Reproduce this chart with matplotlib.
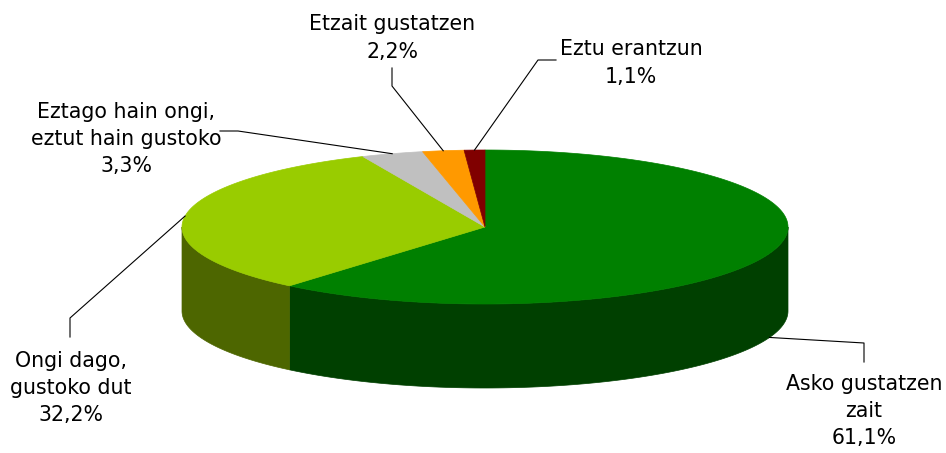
import numpy as np
import matplotlib
matplotlib.use("Agg")
import matplotlib.pyplot as plt
from matplotlib.patches import Polygon

# data
labels = ["Asko gustatzen\nzait", "Ongi dago,\ngustoko dut", "Eztago hain ongi,\neztut hain gustoko",
          "Etzait gustatzen", "Eztu erantzun"]
values = [61.1, 32.2, 3.3, 2.2, 1.1]
pct_text = ["61,1%", "32,2%", "3,3%", "2,2%", "1,1%"]
top_colors = ["#008000", "#99CC00", "#C0C0C0", "#FF9900", "#800000"]
side_colors = ["#004000", "#4D6600", "#606060", "#804C00", "#400000"]

# geometry of the tilted pie (pixel space)
cx, cy, rx, ry, depth = 485, 227, 303, 77, 84

# label placement (block centre) and leader-line bends
label_pos = [(864, 411), (71, 388), (126, 139), (392, 38), (631, 63)]
leader_bends = [[(864, 343), (864, 362)],
                [(70, 318), (70, 337)],
                [(238, 131), (220, 131)],
                [(392, 86), (392, 68)],
                [(538, 60), (556, 60)]]

plt.rcParams["font.family"] = "DejaVu Sans"

fig = plt.figure(figsize=(9.46, 4.53), dpi=100)
ax = fig.add_axes([0, 0, 1, 1])
ax.set_xlim(0, 946)
ax.set_ylim(453, 0)
ax.axis("off")


def pt(t, dz=0):
    return cx + rx * np.cos(np.radians(t)), cy - ry * np.sin(np.radians(t)) + dz


# angles, clockwise from 12 o'clock
fracs = np.array(values) / sum(values)
starts = 90 - 360 * np.concatenate([[0], np.cumsum(fracs)[:-1]])
ends = starts - 360 * fracs

# side walls (front half only: angles between 180 and 360)
for s, e, col in zip(starts, ends, side_colors):
    lo, hi = e % 360, s % 360
    if hi <= lo:
        hi += 360
    a, b = max(lo, 180), min(hi, 360)
    if b <= a:
        continue
    t = np.linspace(a, b, 120)
    top = [pt(x) for x in t]
    bot = [pt(x, depth) for x in t[::-1]]
    ax.add_patch(Polygon(top + bot, closed=True, facecolor=col, edgecolor=col, lw=0.5))

# top faces
for s, e, col in zip(starts, ends, top_colors):
    t = np.linspace(s, e, max(int(abs(s - e)) * 2, 10))
    verts = [(cx, cy)] + [pt(x) for x in t]
    ax.add_patch(Polygon(verts, closed=True, facecolor=col, edgecolor=col, lw=0.5))

# labels with leader lines
for s, e, lab, pct, pos, bends in zip(starts, ends, labels, pct_text, label_pos, leader_bends):
    mid = (s + e) / 2
    dz = depth if np.sin(np.radians(mid)) < 0 else 0
    x0, y0 = pt(mid, dz)
    xs = [x0] + [b[0] for b in bends]
    ys = [y0] + [b[1] for b in bends]
    ax.plot(xs, ys, color="black", lw=0.8)
    ax.text(pos[0], pos[1], f"{lab}\n{pct}", ha="center", va="center",
            fontsize=14.8, linespacing=1.45, color="black")

fig.savefig("out.png", dpi=100)
